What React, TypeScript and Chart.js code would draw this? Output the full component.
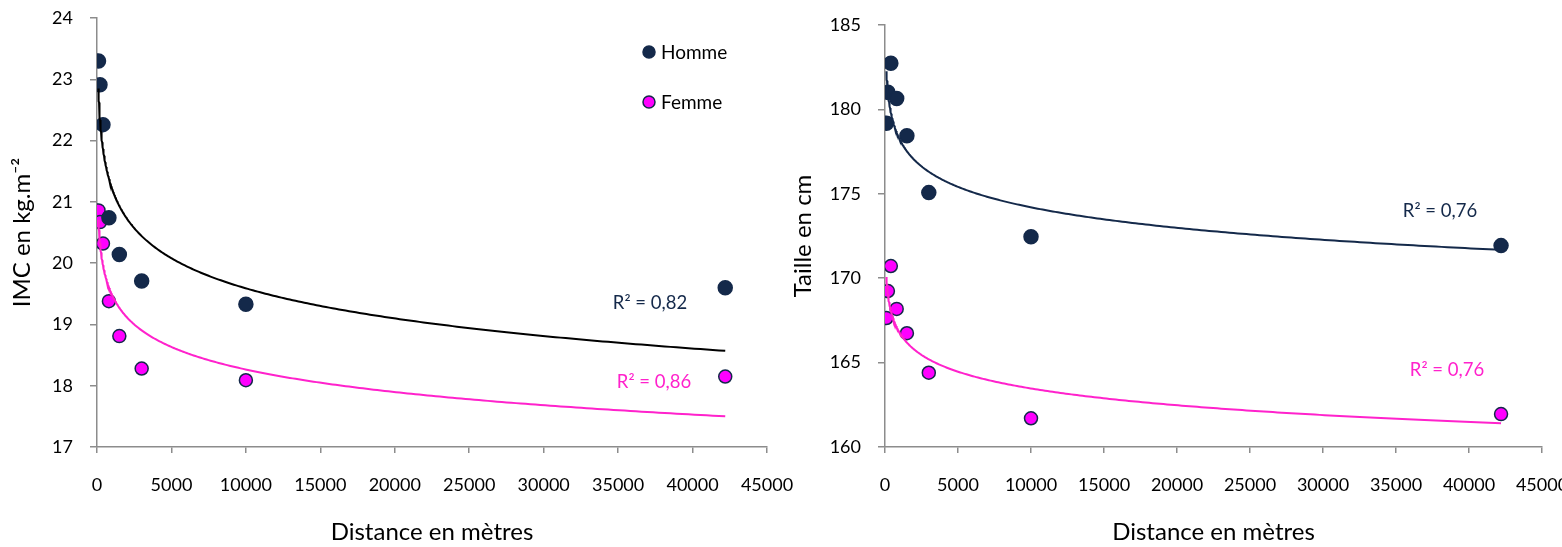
import React, { useEffect, useRef } from 'react';
import { Chart, registerables } from 'chart.js';

Chart.register(...registerables);

// ---------- DATA ----------
const distances = [100, 200, 400, 800, 1500, 3000, 10000, 42195];
const imcHomme = [23.3, 22.91, 22.26, 20.74, 20.14, 19.71, 19.33, 19.6];
const imcFemme = [20.86, 20.67, 20.32, 19.38, 18.81, 18.28, 18.09, 18.15];
const tailleHomme = [179.18, 181.01, 182.73, 180.64, 178.44, 175.07, 172.46, 171.93];
const tailleFemme = [167.64, 169.24, 170.72, 168.18, 166.74, 164.4, 161.7, 161.95];
const seriesLabels = ['Homme', 'Femme'];
const r2Imc = ['R² = 0,82', 'R² = 0,86'];
const r2Taille = ['R² = 0,76', 'R² = 0,76'];
const xTitle = 'Distance en mètres';
const yTitleImc = 'IMC en kg.m⁻²';
const yTitleTaille = 'Taille en cm';

// ---------- STYLE ----------
const NAVY = '#14294A';
const MAGENTA = '#FF00FF';
const PINK = '#FF22CC';
const AXIS = '#8C8C8C';
const FONT = 'Lato, "Open Sans", sans-serif';
const TITLE_SIZE = 24;

function logFit(xs: number[], ys: number[]) {
  const lx = xs.map((x) => Math.log(x));
  const n = xs.length;
  const mx = lx.reduce((s, v) => s + v, 0) / n;
  const my = ys.reduce((s, v) => s + v, 0) / n;
  let sxy = 0;
  let sxx = 0;
  for (let i = 0; i < n; i++) {
    sxy += (lx[i] - mx) * (ys[i] - my);
    sxx += (lx[i] - mx) * (lx[i] - mx);
  }
  const a = sxy / sxx;
  return { a, b: my - a * mx };
}

function trendPoints(xs: number[], ys: number[], n = 300) {
  const { a, b } = logFit(xs, ys);
  const x0 = xs[0];
  const x1 = xs[xs.length - 1];
  const pts: { x: number; y: number }[] = [];
  for (let i = 0; i <= n; i++) {
    const t = i / n;
    const x = x0 + (x1 - x0) * t * t * t;
    pts.push({ x, y: a * Math.log(x) + b });
  }
  return pts;
}

const toPts = (xs: number[], ys: number[]) => xs.map((x, i) => ({ x, y: ys[i] }));

interface Spec {
  canvasLeft: number;
  canvasWidth: number;
  padTop: number;
  padRight: number;
  yAxisWidth: number;
  yMin: number;
  yMax: number;
  yStep: number;
  yTitle: string;
  homme: number[];
  femme: number[];
  hommeTrendColor: string;
  r2: string[];
  r2Pos: { x: number; y: number }[];
  legend: boolean;
}

function makeConfig(spec: Spec): any {
  const tickFont = { family: FONT, size: 18 };
  const plugins: any[] = [
    {
      id: 'r2Labels',
      afterDatasetsDraw(chart: any) {
        const ctx = chart.ctx;
        ctx.save();
        ctx.font = `18.5px ${FONT}`;
        ctx.textAlign = 'center';
        ctx.textBaseline = 'middle';
        spec.r2.forEach((txt, i) => {
          ctx.fillStyle = i === 0 ? NAVY : PINK;
          ctx.fillText(txt, spec.r2Pos[i].x, spec.r2Pos[i].y);
        });
        ctx.restore();
      },
    },
  ];
  if (spec.legend) {
    plugins.push({
      id: 'customLegend',
      afterDatasetsDraw(chart: any) {
        const ctx = chart.ctx;
        ctx.save();
        const items = chart.data.datasets.filter((d: any) => seriesLabels.includes(d.label));
        items.forEach((d: any, i: number) => {
          const cx = 649;
          const cy = 52 + i * 50;
          ctx.beginPath();
          ctx.arc(cx, cy, 6, 0, Math.PI * 2);
          ctx.fillStyle = d.backgroundColor;
          ctx.fill();
          ctx.lineWidth = 1.5;
          ctx.strokeStyle = d.borderColor;
          ctx.stroke();
          ctx.fillStyle = '#000';
          ctx.font = `19px ${FONT}`;
          ctx.textAlign = 'left';
          ctx.textBaseline = 'middle';
          ctx.fillText(d.label, 661, cy + 1);
        });
        ctx.restore();
      },
    });
  }

  return {
    type: 'scatter',
    data: {
      datasets: [
        {
          label: 'trend-homme',
          type: 'line',
          data: trendPoints(distances, spec.homme),
          borderColor: spec.hommeTrendColor,
          borderWidth: 2,
          pointRadius: 0,
          tension: 0,
          fill: false,
          order: 0,
        },
        {
          label: 'trend-femme',
          type: 'line',
          data: trendPoints(distances, spec.femme),
          borderColor: PINK,
          borderWidth: 2,
          pointRadius: 0,
          tension: 0,
          fill: false,
          order: 0,
        },
        {
          label: seriesLabels[0],
          data: toPts(distances, spec.homme),
          backgroundColor: NAVY,
          borderColor: NAVY,
          borderWidth: 1.5,
          pointRadius: 7,
          order: 1,
        },
        {
          label: seriesLabels[1],
          data: toPts(distances, spec.femme),
          backgroundColor: MAGENTA,
          borderColor: NAVY,
          borderWidth: 1.5,
          pointRadius: 6.5,
          order: 1,
        },
      ],
    },
    options: {
      animation: false,
      responsive: false,
      maintainAspectRatio: false,
      events: [],
      layout: { padding: { left: 0, top: spec.padTop, right: spec.padRight, bottom: 0 } },
      plugins: { legend: { display: false }, tooltip: { enabled: false } },
      scales: {
        x: {
          type: 'linear',
          min: 0,
          max: 45000,
          ticks: {
            stepSize: 5000,
            font: tickFont,
            color: '#000',
            padding: 21,
            maxRotation: 0,
            autoSkip: false,
            callback: (v: any) => String(v),
          },
          grid: { drawOnChartArea: false, drawTicks: true, tickLength: 6, color: AXIS, lineWidth: 1.5 },
          border: { display: true, color: AXIS, width: 1.5 },
          title: {
            display: true,
            text: xTitle,
            color: '#000',
            font: { family: FONT, size: TITLE_SIZE },
            padding: { top: 0, bottom: 0 },
          },
          afterFit: (s: any) => {
            s.height = 100;
            s.paddingLeft = 0;
            s.paddingRight = 0;
          },
        },
        y: {
          type: 'linear',
          min: spec.yMin,
          max: spec.yMax,
          ticks: {
            stepSize: spec.yStep,
            font: tickFont,
            color: '#000',
            padding: 17,
            callback: (v: any) => String(v),
          },
          grid: { drawOnChartArea: false, drawTicks: true, tickLength: 7, color: AXIS, lineWidth: 1.5 },
          border: { display: true, color: AXIS, width: 1.5 },
          title: {
            display: true,
            text: spec.yTitle,
            color: '#000',
            font: { family: FONT, size: TITLE_SIZE },
            padding: { top: 22 - TITLE_SIZE * 0.6, bottom: 0 },
          },
          afterFit: (s: any) => {
            s.width = spec.yAxisWidth;
            s.paddingTop = 0;
            s.paddingBottom = 0;
          },
        },
      },
    },
    plugins,
  };
}

function ScatterPanel({ spec }: { spec: Spec }) {
  const ref = useRef<HTMLCanvasElement | null>(null);
  useEffect(() => {
    if (!ref.current) return;
    const chart = new Chart(ref.current, makeConfig(spec));
    return () => chart.destroy();
  }, [spec]);
  return (
    <canvas
      ref={ref}
      width={spec.canvasWidth}
      height={547}
      style={{
        position: 'absolute',
        left: spec.canvasLeft,
        top: 0,
        width: spec.canvasWidth,
        height: 547,
      }}
    />
  );
}

const leftSpec: Spec = {
  canvasLeft: 0,
  canvasWidth: 830,
  padTop: 18,
  padRight: 63,
  yAxisWidth: 97,
  yMin: 17,
  yMax: 24,
  yStep: 1,
  yTitle: yTitleImc,
  homme: imcHomme,
  femme: imcFemme,
  hommeTrendColor: '#000000',
  r2: r2Imc,
  r2Pos: [
    { x: 650, y: 303 },
    { x: 654, y: 382 },
  ],
  legend: true,
};

const rightSpec: Spec = {
  canvasLeft: 781,
  canvasWidth: 800,
  padTop: 25,
  padRight: 39,
  yAxisWidth: 104,
  yMin: 160,
  yMax: 185,
  yStep: 5,
  yTitle: yTitleTaille,
  homme: tailleHomme,
  femme: tailleFemme,
  hommeTrendColor: NAVY,
  r2: r2Taille,
  r2Pos: [
    { x: 659, y: 211 },
    { x: 666, y: 370 },
  ],
  legend: false,
};

export default function App() {
  return (
    <div
      style={{
        position: 'fixed',
        left: 0,
        top: 0,
        width: 1562,
        height: 547,
        overflow: 'hidden',
        background: '#fff',
      }}
    >
      <ScatterPanel spec={leftSpec} />
      <ScatterPanel spec={rightSpec} />
    </div>
  );
}
